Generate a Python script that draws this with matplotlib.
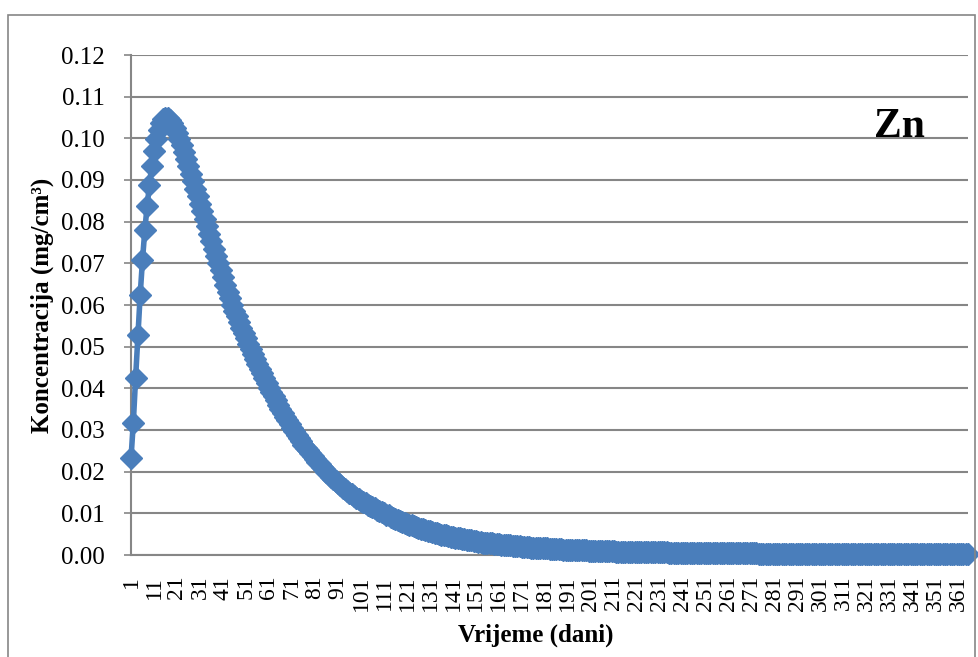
import matplotlib
matplotlib.use("Agg")
from matplotlib import pyplot as plt
from matplotlib.patches import Rectangle

# concentration of Zn (mg/cm3) per day
conc_rise = [
    0.0232, 0.0317, 0.0425, 0.0527, 0.0625, 0.0708, 0.0779, 0.0837, 0.0887, 0.0934,
    0.0969, 0.0998, 0.1020, 0.1036, 0.1046, 0.1050, 0.1049, 0.1044, 0.1036, 0.1025,
]
conc_fall = [
    0.1012, 0.0998, 0.0983, 0.0967, 0.0950, 0.0933, 0.0915, 0.0897, 0.0879, 0.0861,
    0.0843, 0.0825, 0.0807, 0.0789, 0.0771, 0.0753, 0.0735, 0.0717, 0.0700, 0.0683,
    0.0666, 0.0649, 0.0632, 0.0616, 0.0600, 0.0586, 0.0573, 0.0559, 0.0546, 0.0533,
    0.0520, 0.0507, 0.0495, 0.0483, 0.0471, 0.0459, 0.0447, 0.0436, 0.0424, 0.0413,
    0.0402, 0.0391, 0.0381, 0.0371, 0.0361, 0.0351, 0.0341, 0.0332, 0.0323, 0.0314,
    0.0305, 0.0297, 0.0289, 0.0281, 0.0273, 0.0265, 0.0258, 0.0251, 0.0244, 0.0237,
    0.0230, 0.0224, 0.0218, 0.0212, 0.0206, 0.0200, 0.0194, 0.0188, 0.0182, 0.0177,
    0.0172, 0.0167, 0.0162, 0.0158, 0.0154, 0.0150, 0.0146, 0.0142, 0.0138, 0.0134,
]
conc_decay = [
    0.0130, 0.0127, 0.0124, 0.0121, 0.0118, 0.0115, 0.0112, 0.0109, 0.0106, 0.0103,
    0.0100, 0.0097, 0.0095, 0.0092, 0.0090, 0.0087, 0.0085, 0.0082, 0.0080, 0.0078,
    0.0075, 0.0073, 0.0071, 0.0069, 0.0067, 0.0065, 0.0063, 0.0062, 0.0060, 0.0058,
    0.0057, 0.0055, 0.0054, 0.0052, 0.0051, 0.0049, 0.0048, 0.0047, 0.0045, 0.0044,
    0.0043, 0.0042, 0.0041, 0.0040, 0.0039, 0.0038, 0.0037, 0.0036, 0.0035, 0.0034,
    0.0033, 0.0032, 0.0031, 0.0030, 0.0030, 0.0029, 0.0028, 0.0028, 0.0027, 0.0026,
    0.0026, 0.0025, 0.0024, 0.0024, 0.0023, 0.0023, 0.0022, 0.0022, 0.0021, 0.0021,
    0.0020, 0.0020, 0.0019, 0.0019, 0.0018, 0.0018, 0.0018, 0.0017, 0.0017, 0.0016,
    0.0016, 0.0016, 0.0015, 0.0015, 0.0015, 0.0014, 0.0014, 0.0014, 0.0013, 0.0013,
    0.0013, 0.0013, 0.0012, 0.0012, 0.0012, 0.0011, 0.0011, 0.0011, 0.0011, 0.0010,
]
conc_tail = [
    0.00099, 0.00097, 0.00096, 0.00094, 0.00093, 0.00091, 0.00090, 0.00089, 0.00087, 0.00086,
    0.00085, 0.00083, 0.00082, 0.00081, 0.00080, 0.00079, 0.00077, 0.00076, 0.00075, 0.00074,
    0.00073, 0.00072, 0.00071, 0.00070, 0.00069, 0.00068, 0.00067, 0.00066, 0.00065, 0.00064,
    0.00063, 0.00062, 0.00061, 0.00061, 0.00060, 0.00059, 0.00058, 0.00057, 0.00057, 0.00056,
    0.00055, 0.00054, 0.00054, 0.00053, 0.00052, 0.00052, 0.00051, 0.00050, 0.00050, 0.00049,
    0.00048, 0.00048, 0.00047, 0.00047, 0.00046, 0.00045, 0.00045, 0.00044, 0.00044, 0.00043,
    0.00043, 0.00042, 0.00042, 0.00041, 0.00041, 0.00040, 0.00040, 0.00039, 0.00039, 0.00038,
    0.00038, 0.00037, 0.00037, 0.00036, 0.00036, 0.00036, 0.00035, 0.00035, 0.00034, 0.00034,
    0.00034, 0.00033, 0.00033, 0.00032, 0.00032, 0.00032, 0.00031, 0.00031, 0.00031, 0.00030,
    0.00030, 0.00030, 0.00029, 0.00029, 0.00029, 0.00028, 0.00028, 0.00028, 0.00027, 0.00027,
    0.00027, 0.00027, 0.00026, 0.00026, 0.00026, 0.00025, 0.00025, 0.00025, 0.00025, 0.00024,
    0.00024, 0.00024, 0.00024, 0.00023, 0.00023, 0.00023, 0.00023, 0.00022, 0.00022, 0.00022,
    0.00022, 0.00021, 0.00021, 0.00021, 0.00021, 0.00021, 0.00020, 0.00020, 0.00020, 0.00020,
    0.00019, 0.00019, 0.00019, 0.00019, 0.00019, 0.00018, 0.00018, 0.00018, 0.00018, 0.00018,
    0.00017, 0.00017, 0.00017, 0.00017, 0.00017, 0.00017, 0.00016, 0.00016, 0.00016, 0.00016,
    0.00016, 0.00016, 0.00015, 0.00015, 0.00015, 0.00015, 0.00015, 0.00015, 0.00014, 0.00014,
    0.00014, 0.00014, 0.00014, 0.00014, 0.00013,
]
concentration = conc_rise + conc_fall + conc_decay + conc_tail
days = list(range(1, len(concentration) + 1))

x_ticks = list(range(1, 362, 10))
y_ticks = [0.00, 0.01, 0.02, 0.03, 0.04, 0.05, 0.06, 0.07, 0.08, 0.09, 0.10, 0.11, 0.12]

plt.rcParams["font.family"] = ["Liberation Serif", "DejaVu Serif"]
grey = "#868686"
blue = "#4A7EBB"

fig = plt.figure(figsize=(9.79, 6.57), dpi=100)
fig.patches.append(Rectangle((8 / 979, -0.05), 967 / 979, 1 - 15 / 657 + 0.05,
                             transform=fig.transFigure, fill=False,
                             edgecolor=grey, linewidth=1.2))
ax = fig.add_axes([131 / 979, 1 - 555 / 657, 837 / 979, 500 / 657])

ax.plot(days, concentration, color=blue, linewidth=4, marker="D",
        markersize=11, markeredgecolor=blue, markerfacecolor=blue, clip_on=False, zorder=3)

ax.set_xlim(1, 365)
ax.set_ylim(0, 0.12)
ax.set_yticks(y_ticks)
ax.set_yticklabels([f"{v:.2f}" for v in y_ticks], fontsize=18)
ax.set_xticks(x_ticks)
ax.set_xticklabels([str(d) for d in x_ticks], fontsize=17, rotation=90, va="top")
ax.tick_params(axis="x", length=0, pad=15)
ax.tick_params(axis="y", length=5, width=1.2, color=grey, pad=14)

ax.grid(axis="y", color=grey, linewidth=1.5)
ax.set_axisbelow(True)
for side in ("top", "right"):
    ax.spines[side].set_visible(False)
for side in ("left", "bottom"):
    ax.spines[side].set_color(grey)
    ax.spines[side].set_linewidth(1.5)

fig.text(536 / 979, 1 - 635 / 657, "Vrijeme (dani)", fontsize=18, fontweight="bold",
         ha="center", va="center")
fig.text(42 / 979, 1 - 305 / 657, "Koncentracija (mg/cm³)", fontsize=18,
         fontweight="bold", rotation=90, ha="center", va="center")
ax.text(899 / 979, 1 - 127 / 657, "Zn", transform=fig.transFigure, fontsize=30,
        fontweight="bold", ha="center", va="center")

fig.savefig("out.png", dpi=100)
